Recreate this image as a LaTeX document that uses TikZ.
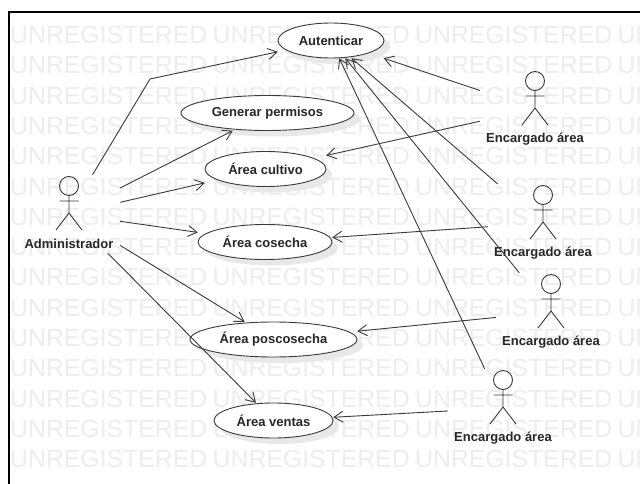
\documentclass[tikz,border=0pt]{standalone}
\usepackage{fontspec}
\setmainfont{Liberation Sans}
\usetikzlibrary{arrows.meta}
\definecolor{ink}{HTML}{3A3A3A}
\definecolor{wm}{HTML}{EDEDED}
\definecolor{shade}{HTML}{E8E8E8}
\tikzset{
  usecasebox/.style={rectangle,inner sep=0pt,
    font=\fontsize{13}{15}\selectfont\bfseries,text=black!85},
  usecaseoutline/.style={draw=ink,line width=0.9pt,fill=white},
  usecaseshadow/.style={fill=shade},
  actorbox/.style={rectangle,inner sep=0pt,minimum height=78pt},
  actorlabel/.style={inner sep=0pt,font=\fontsize{13}{15}\selectfont\bfseries,text=black!85},
  actorline/.style={draw=ink,line width=0.9pt},
  assoc/.style={draw=ink,line width=0.9pt,-{Straight Barb[length=9pt,width=11pt,line width=0.9pt]}},
  watermark/.style={anchor=west,inner sep=0pt,text=wm,font=\fontsize{24.8}{26}\selectfont},
  framing/.style={draw=black,line width=1.3pt}
}
\newcommand{\umlcase}[6]{% name, cx, cy, width, height, label
  \fill[usecaseshadow] ({#2+6},{#3+6}) ellipse ({#4/2} and {#5/2});
  \draw[usecaseoutline] (#2,#3) ellipse ({#4/2} and {#5/2});
  \node[usecasebox,minimum width=#4 pt,minimum height=#5 pt] (#1) at (#2,#3) {#6};
}
\newcommand{\umlactor}[5]{% name, cx, top, half-width, label
  \begin{scope}[shift={(#2,#3)}]
    \node[actorbox,minimum width=#4*2pt] (#1) at (0,39) {};
    \node[actorlabel] (#1label) at (0,69) {#5};
    \draw[actorline] (0,11) circle (9.5pt);
    \draw[actorline] (0,20.5) -- (0,38) (-9.5,26) -- (9.5,26) (-13,55) -- (0,38) -- (13,55);
  \end{scope}
}
\begin{document}
\begin{tikzpicture}[x=1pt,y=-1pt]
\useasboundingbox (0,0) rectangle (640,484);
\fill[white] (0,0) rectangle (640,484);
\begin{scope}
  \clip (10,13) rectangle (640,484);
  \foreach \r in {0,...,14}
    \foreach \c in {0,...,3}
      \node[watermark] (wm\r c\c) at ({10+202.5*\c},{35+30.3*\r}) {UNREGISTERED};
\end{scope}
\draw[framing] (9,484) -- (9,12) -- (640,12);

\umlcase{aut}{331}{40.5}{106}{35}{Autenticar}
\umlcase{gen}{267.5}{113}{173}{35}{Generar permisos}
\umlcase{cul}{265.5}{169}{121}{35}{Área cultivo}
\umlcase{cos}{265}{242}{134}{35}{Área cosecha}
\umlcase{pos}{273.5}{339.5}{167}{35}{Área poscosecha}
\umlcase{ven}{273.5}{420.5}{119}{35}{Área ventas}

\umlactor{admin}{69}{175}{51}{Administrador}
\umlactor{encA}{535}{70}{55}{Encargado área}
\umlactor{encB}{543}{184}{55}{Encargado área}
\umlactor{encC}{551}{273}{55}{Encargado área}
\umlactor{encD}{503}{369}{55}{Encargado área}

\coordinate (bend) at (150,79);
\draw[assoc] (admin) -- (bend) -- (aut);
\draw[assoc] (admin) -- (gen);
\draw[assoc] (admin) -- (cul);
\draw[assoc] (admin) -- (cos);
\draw[assoc] (admin) -- (pos);
\draw[assoc] (admin) -- (ven);
\draw[assoc] (encA) -- (aut);
\draw[assoc] (encA) -- (cul);
\draw[assoc] (encB) -- (aut);
\draw[assoc] (encB) -- (cos);
\draw[assoc] (encC) -- (aut);
\draw[assoc] (encC) -- (pos);
\draw[assoc] (encD) -- (aut);
\draw[assoc] (encD) -- (ven);
\end{tikzpicture}
\end{document}
